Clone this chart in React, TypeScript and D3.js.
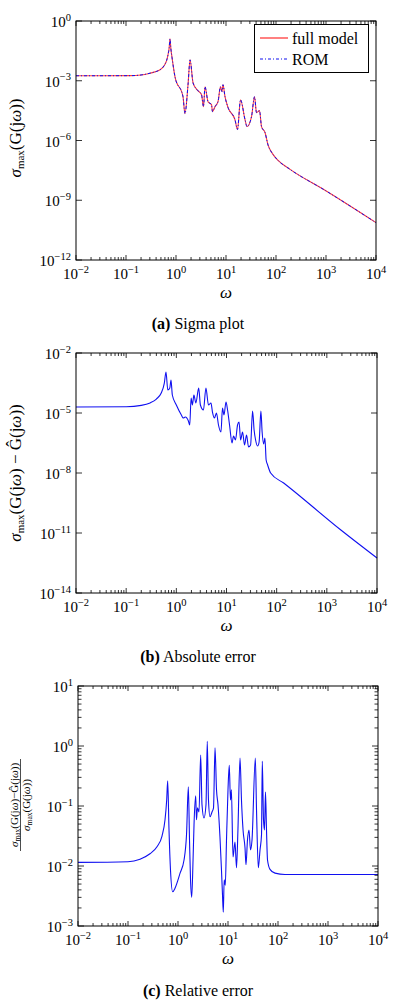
import React from "react";
import * as d3 from "d3";

// ---------- data ----------
const sigmaOmega = [0.01, 0.12, 0.2, 0.302, 0.4, 0.479, 0.55, 0.603, 0.65, 0.692, 0.73, 0.759, 0.79, 0.832, 0.955, 1.38, 1.51, 1.74, 1.91, 2.19, 2.63, 3.24, 3.55, 3.8, 4.37, 5.13, 5.37, 6.03, 6.92, 7.76, 8.32, 8.71, 9.55, 11.0, 15.1, 17.0, 19.5, 24.0, 26.3, 32.4, 37.2, 40.7, 46.8, 51.3, 60.3, 69.2, 85, 110, 191, 955, 10000];
const sigmaFull = [1.78e-3, 1.8e-3, 1.95e-3, 2.4e-3, 2.9e-3, 3.55e-3, 4.8e-3, 6.8e-3, 1.05e-2, 2.0e-2, 4.5e-2, 1.26e-1, 4.0e-2, 1.5e-2, 1.58e-3, 1.58e-4, 2.24e-5, 6.31e-4, 1.12e-2, 7.94e-4, 3.55e-4, 2.0e-4, 5.01e-5, 5.01e-4, 8.91e-5, 6.31e-5, 2.82e-5, 5.01e-5, 8.91e-5, 5.01e-4, 2.82e-4, 6.31e-4, 1.58e-4, 4.47e-5, 1.12e-5, 3.55e-6, 1.12e-4, 1.12e-5, 5.01e-6, 1.58e-5, 1.58e-4, 2.51e-5, 3.16e-5, 5.01e-6, 2.51e-6, 6.0e-7, 2.2e-7, 1.0e-7, 3.55e-8, 3.16e-9, 7.5e-11];
// the reduced-order model overlays the full model in the sigma plot
const sigmaRom = [1.78e-3, 1.8e-3, 1.95e-3, 2.4e-3, 2.9e-3, 3.55e-3, 4.8e-3, 6.8e-3, 1.05e-2, 2.0e-2, 4.5e-2, 1.26e-1, 4.0e-2, 1.5e-2, 1.58e-3, 1.58e-4, 2.24e-5, 6.31e-4, 1.12e-2, 7.94e-4, 3.55e-4, 2.0e-4, 5.01e-5, 5.01e-4, 8.91e-5, 6.31e-5, 2.82e-5, 5.01e-5, 8.91e-5, 5.01e-4, 2.82e-4, 6.31e-4, 1.58e-4, 4.47e-5, 1.12e-5, 3.55e-6, 1.12e-4, 1.12e-5, 5.01e-6, 1.58e-5, 1.58e-4, 2.51e-5, 3.16e-5, 5.01e-6, 2.51e-6, 6.0e-7, 2.2e-7, 1.0e-7, 3.55e-8, 3.16e-9, 7.5e-11];

const absOmega = [0.01, 0.1, 0.2, 0.3, 0.4, 0.5, 0.575, 0.622, 0.676, 0.741, 0.783, 0.832, 1.0, 1.26, 1.38, 1.51, 1.74, 1.85, 1.97, 2.09, 2.24, 2.45, 2.79, 3.02, 3.47, 3.89, 4.37, 4.9, 5.25, 5.75, 6.31, 6.92, 7.76, 8.32, 8.91, 9.77, 10.5, 11.5, 12.9, 13.8, 15.1, 16.6, 17.8, 19.1, 20.9, 22.9, 25.1, 27.5, 30.2, 33.1, 35.5, 38.0, 41.7, 44.7, 48.5, 51.3, 55.0, 58.3, 61.7, 66.1, 75.9, 138, 1905, 10000];
const absError = [2.0e-5, 2.05e-5, 2.4e-5, 3.2e-5, 5.0e-5, 1.0e-4, 3.0e-4, 1.12e-3, 1.41e-4, 1.78e-4, 4.47e-4, 7.94e-5, 2.51e-5, 7.94e-6, 5.62e-6, 6.31e-6, 3.98e-6, 2.51e-6, 5.62e-5, 2.51e-5, 7.94e-5, 3.16e-5, 1.78e-4, 2.51e-5, 1.41e-5, 1.78e-4, 2.51e-5, 3.16e-5, 1.12e-5, 5.62e-6, 1.0e-5, 2.51e-6, 1.12e-6, 1.78e-5, 7.94e-6, 3.55e-5, 1.41e-5, 2.51e-6, 3.16e-7, 7.08e-7, 4.47e-7, 2.51e-6, 3.55e-6, 4.47e-7, 1.12e-6, 2.51e-7, 7.94e-7, 2.0e-7, 2.51e-7, 1.26e-5, 1.41e-6, 4.47e-7, 2.24e-7, 3.55e-7, 1.26e-5, 1.12e-6, 2.82e-7, 5.62e-7, 4.47e-8, 2.51e-8, 1.0e-8, 3.16e-9, 1.41e-11, 5.62e-13];

const relOmega = [0.01, 0.1, 0.174, 0.275, 0.38, 0.479, 0.55, 0.594, 0.622, 0.661, 0.708, 0.783, 0.871, 1.10, 1.32, 1.48, 1.61, 1.70, 1.78, 1.88, 2.0, 2.09, 2.26, 2.34, 2.45, 2.63, 2.84, 3.02, 3.31, 3.63, 3.85, 4.07, 4.37, 4.79, 5.13, 5.5, 5.89, 6.31, 6.92, 7.41, 7.76, 8.05, 8.39, 8.83, 9.33, 10.0, 10.6, 11.2, 11.7, 12.6, 13.8, 14.8, 15.8, 17.4, 18.6, 20.0, 21.9, 22.9, 24.5, 26.3, 28.2, 30.2, 35.2, 37.2, 40.4, 43.7, 46.8, 48.5, 51.3, 53.7, 56.2, 58.9, 61.7, 69.2, 87.1, 138, 10000];
const relError = [1.15e-2, 1.18e-2, 1.3e-2, 1.6e-2, 2.09e-2, 3.16e-2, 5.89e-2, 0.126, 0.263, 3.98e-2, 8.51e-3, 3.72e-3, 4.27e-3, 7.59e-3, 1.26e-2, 3.31e-2, 0.209, 2.69e-2, 5.89e-3, 3.02e-3, 1.26e-2, 4.79e-2, 0.148, 5.89e-2, 9.33e-2, 7.94e-2, 0.708, 0.105, 6.31e-2, 0.105, 1.2, 0.126, 6.61e-2, 7.94e-2, 9.33e-2, 0.933, 0.186, 0.105, 2.95e-2, 8.51e-3, 3.31e-3, 1.7e-3, 5.89e-3, 4.79e-3, 2.69e-2, 0.186, 0.479, 0.126, 0.186, 1.41e-2, 2.51e-2, 9.33e-3, 3.98e-2, 0.631, 0.126, 3.98e-2, 2.0e-2, 1.05e-2, 2.69e-2, 3.98e-2, 1.86e-2, 2.69e-2, 0.631, 8.51e-2, 9.33e-3, 1.86e-2, 3.31e-2, 0.562, 5.89e-2, 3.98e-2, 0.17, 3.98e-2, 1.26e-2, 8.8e-3, 7.6e-3, 7.2e-3, 7.2e-3];

const xDomain = [1e-2, 1e4];
const xTickExps = [-2, -1, 0, 1, 2, 3, 4];
const sigmaTickExps = [0, -3, -6, -9, -12];
const absTickExps = [-2, -5, -8, -11, -14];
const relTickExps = [1, 0, -1, -2, -3];
const legendLabels = ["full model", "ROM"];
const captions = [
  { tag: "(a)", text: " Sigma plot" },
  { tag: "(b)", text: " Absolute error" },
  { tag: "(c)", text: " Relative error" },
];

const FONT = "Liberation Serif, Times New Roman, Times, serif";
const RED = "#ff3c3c";
const BLUE = "#1010f0";

function expStr(e: number) {
  return e < 0 ? "\u2212" + String(-e) : String(e);
}

type Series = { x: number[]; y: number[]; color: string; width: number; dash?: string };

function Panel(props: {
  left: number; right: number; top: number; bottom: number;
  yExps: number[]; yMinor: boolean; series: Series[];
}) {
  const { left, right, top, bottom, yExps, yMinor, series } = props;
  const yMax = Math.max(...yExps), yMin = Math.min(...yExps);
  const x = d3.scaleLog().domain(xDomain).range([left, right]);
  const y = d3.scaleLog().domain([Math.pow(10, yMin), Math.pow(10, yMax)]).range([bottom, top]);
  const isPow10 = (v: number) => Math.abs(Math.log10(v) - Math.round(Math.log10(v))) < 1e-9;
  const xTicks = x.ticks();
  const yMinorTicks = yMinor ? y.ticks().filter((v) => !isPow10(v)) : [];
  const line = (s: Series) =>
    d3.line<number>().curve(d3.curveMonotoneX).x((_, i) => x(s.x[i])).y((v) => y(v))(s.y) || "";
  return (
    <g>
      {series.map((s, i) => (
        <path key={i} d={line(s)} fill="none" stroke={s.color} strokeWidth={s.width}
          strokeDasharray={s.dash} strokeLinejoin="round" />
      ))}
      {xTicks.map((v, i) => {
        const len = isPow10(v) ? 5 : 3;
        const px = x(v);
        return (
          <g key={"xt" + i}>
            <line x1={px} x2={px} y1={bottom} y2={bottom - len} stroke="#000" strokeWidth={0.8} />
            <line x1={px} x2={px} y1={top} y2={top + len} stroke="#000" strokeWidth={0.8} />
          </g>
        );
      })}
      {yExps.map((e, i) => {
        const py = y(Math.pow(10, e));
        return (
          <g key={"yt" + i}>
            <line x1={left} x2={left + 6} y1={py} y2={py} stroke="#000" strokeWidth={0.8} />
            <line x1={right} x2={right - 6} y1={py} y2={py} stroke="#000" strokeWidth={0.8} />
            <text x={left - 5} y={py + 6} textAnchor="end" fontSize={15}>
              10<tspan dy={-6.5} fontSize={10.5}>{expStr(e)}</tspan>
            </text>
          </g>
        );
      })}
      {yMinorTicks.map((v, i) => {
        const py = y(v);
        return (
          <g key={"ym" + i}>
            <line x1={left} x2={left + 3.5} y1={py} y2={py} stroke="#000" strokeWidth={0.8} />
            <line x1={right} x2={right - 3.5} y1={py} y2={py} stroke="#000" strokeWidth={0.8} />
          </g>
        );
      })}
      {xTickExps.map((e, i) => (
        <text key={"xl" + i} x={x(Math.pow(10, e))} y={bottom + 19} textAnchor="middle" fontSize={15}>
          10<tspan dy={-6.5} fontSize={10.5}>{expStr(e)}</tspan>
        </text>
      ))}
      <rect x={left} y={top} width={right - left} height={bottom - top} fill="none"
        stroke="#000" strokeWidth={1} />
      <text x={(left + right) / 2} y={bottom + 38} textAnchor="middle"
        fontSize={17} fontStyle="italic">ω</text>
    </g>
  );
}

function Caption({ y, idx }: { y: number; idx: number }) {
  const c = captions[idx];
  return (
    <text x={198} y={y} textAnchor="middle" fontSize={16}>
      <tspan fontWeight="bold">{c.tag}</tspan>
      {c.text}
    </text>
  );
}

export default function App() {
  return (
    <div style={{ position: "absolute", left: 0, top: 0 }}>
      <svg width={397} height={1004} style={{ display: "block", background: "#fff", fontFamily: FONT }}>
        {/* Panel (a) */}
        <Panel left={76} right={376} top={21} bottom={260} yExps={sigmaTickExps} yMinor={false}
          series={[
            { x: sigmaOmega, y: sigmaFull, color: RED, width: 1.1 },
            { x: sigmaOmega, y: sigmaRom, color: BLUE, width: 1, dash: "3,2,1,2" },
          ]} />
        <g>
          <rect x={254.5} y={24.5} width={114} height={48} fill="#fff" stroke="#000" strokeWidth={1} />
          <line x1={260} x2={288} y1={38} y2={38} stroke={RED} strokeWidth={1.3} />
          <text x={292} y={43.5} fontSize={16}>{legendLabels[0]}</text>
          <line x1={260} x2={288} y1={59} y2={59} stroke={BLUE} strokeWidth={1.1} strokeDasharray="3,2,1,2" />
          <text x={292} y={64.5} fontSize={16}>{legendLabels[1]}</text>
        </g>
        <text transform="translate(21,138) rotate(-90)" textAnchor="middle" fontSize={17}>
          <tspan fontStyle="italic">σ</tspan>
          <tspan fontSize={11} dy={3}>max</tspan>
          <tspan dy={-3}>(G(j</tspan>
          <tspan fontStyle="italic">ω</tspan>
          <tspan>))</tspan>
        </text>
        <Caption y={329} idx={0} />

        {/* Panel (b) */}
        <Panel left={76} right={377} top={353} bottom={593} yExps={absTickExps} yMinor={false}
          series={[{ x: absOmega, y: absError, color: BLUE, width: 1.1 }]} />
        <text transform="translate(21,473) rotate(-90)" textAnchor="middle" fontSize={17}>
          <tspan fontStyle="italic">σ</tspan>
          <tspan fontSize={11} dy={3}>max</tspan>
          <tspan dy={-3}>(G(j</tspan>
          <tspan fontStyle="italic">ω</tspan>
          <tspan>) − Ĝ(j</tspan>
          <tspan fontStyle="italic">ω</tspan>
          <tspan>))</tspan>
        </text>
        <Caption y={662} idx={1} />

        {/* Panel (c) */}
        <Panel left={78} right={378} top={686} bottom={926} yExps={relTickExps} yMinor={true}
          series={[{ x: relOmega, y: relError, color: BLUE, width: 1.1 }]} />
        <g transform="translate(20.5,805) rotate(-90)">
          <text x={0} y={-3} textAnchor="middle" fontSize={11}>
            <tspan fontStyle="italic">σ</tspan>
            <tspan fontSize={7.5} dy={2}>max</tspan>
            <tspan dy={-2}>(G(j</tspan>
            <tspan fontStyle="italic">ω</tspan>
            <tspan>)−Ĝ(j</tspan>
            <tspan fontStyle="italic">ω</tspan>
            <tspan>))</tspan>
          </text>
          <line x1={-46} x2={46} y1={0} y2={0} stroke="#000" strokeWidth={0.7} />
          <text x={0} y={9.5} textAnchor="middle" fontSize={11}>
            <tspan fontStyle="italic">σ</tspan>
            <tspan fontSize={7.5} dy={2}>max</tspan>
            <tspan dy={-2}>(G(j</tspan>
            <tspan fontStyle="italic">ω</tspan>
            <tspan>))</tspan>
          </text>
        </g>
        <Caption y={996} idx={2} />
      </svg>
    </div>
  );
}
